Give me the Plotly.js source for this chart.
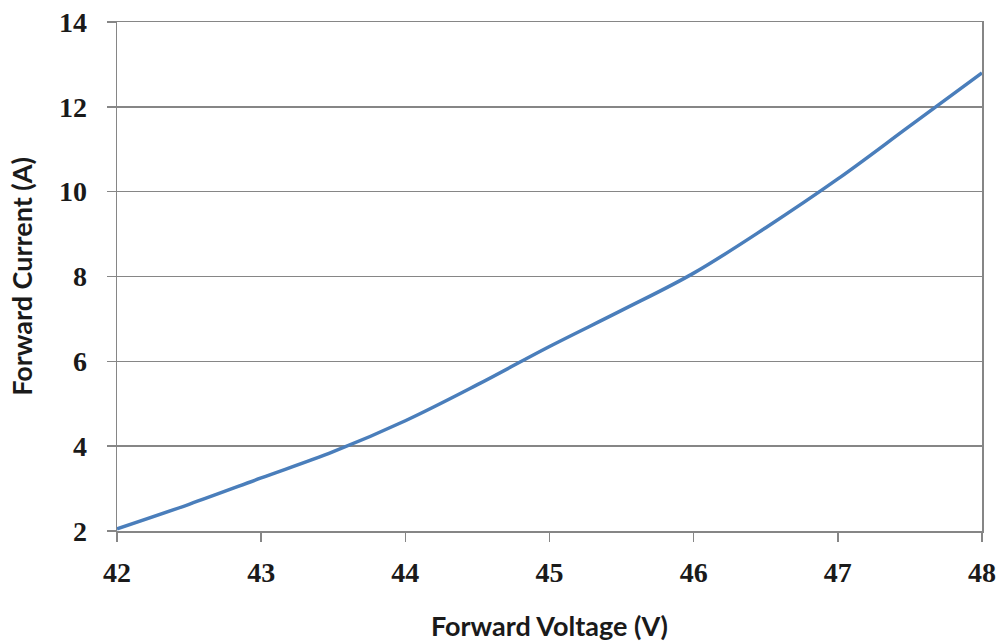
<!DOCTYPE html>
<html>
<head>
<meta charset="utf-8">
<script src="https://cdn.plot.ly/plotly-3.0.1.min.js"></script>
<style>html,body{margin:0;padding:0;background:#fff;}#chart{width:1003px;height:643px;}</style>
</head>
<body>
<div id="chart"></div>
<script>
const voltage = [42, 42.5, 43, 43.5, 44, 44.5, 45, 45.5, 46, 46.5, 47, 47.5, 48];
const current = [2.05, 2.63, 3.25, 3.87, 4.6, 5.45, 6.35, 7.2, 8.08, 9.15, 10.3, 11.55, 12.8];
const xTicks = [42, 43, 44, 45, 46, 47, 48];
const yTicks = [2, 4, 6, 8, 10, 12, 14];

const tickFont = {family: '"Liberation Serif", "DejaVu Serif", serif', size: 28, color: '#1a1a1a', weight: 'bold'};
const titleFont = {family: 'Lato, "Open Sans", sans-serif', size: 27, color: '#1a1a1a', weight: 'bold'};

Plotly.newPlot('chart', [{
  x: voltage, y: current, type: 'scatter', mode: 'lines',
  line: {color: '#4a7ebb', width: 3.5, shape: 'spline'},
  hoverinfo: 'skip'
}], {
  width: 1003, height: 643,
  margin: {l: 117, r: 21, t: 22, b: 112},
  paper_bgcolor: '#ffffff', plot_bgcolor: '#ffffff',
  showlegend: false,
  xaxis: {
    range: [42, 48], tickvals: xTicks, ticktext: xTicks.map(String),
    showgrid: false, zeroline: false,
    showline: true, linecolor: '#868686', linewidth: 1.5, mirror: true,
    ticks: 'outside', ticklen: 9, tickcolor: '#868686', tickwidth: 1.5,
    ticklabelstandoff: 7,
    tickfont: tickFont,
    title: {text: 'Forward Voltage (V)', font: titleFont, standoff: 30}
  },
  yaxis: {
    range: [2, 14], tickvals: yTicks, ticktext: yTicks.map(String),
    showgrid: true, gridcolor: '#868686', gridwidth: 1.5, zeroline: false,
    showline: true, linecolor: '#868686', linewidth: 1.5, mirror: true,
    ticks: 'outside', ticklen: 9, tickcolor: '#868686', tickwidth: 1.5,
    ticklabelstandoff: 14,
    tickfont: tickFont,
    title: {text: 'Forward Current (A)', font: titleFont, standoff: 18}
  }
}, {displayModeBar: false, staticPlot: true});
</script>
</body>
</html>
